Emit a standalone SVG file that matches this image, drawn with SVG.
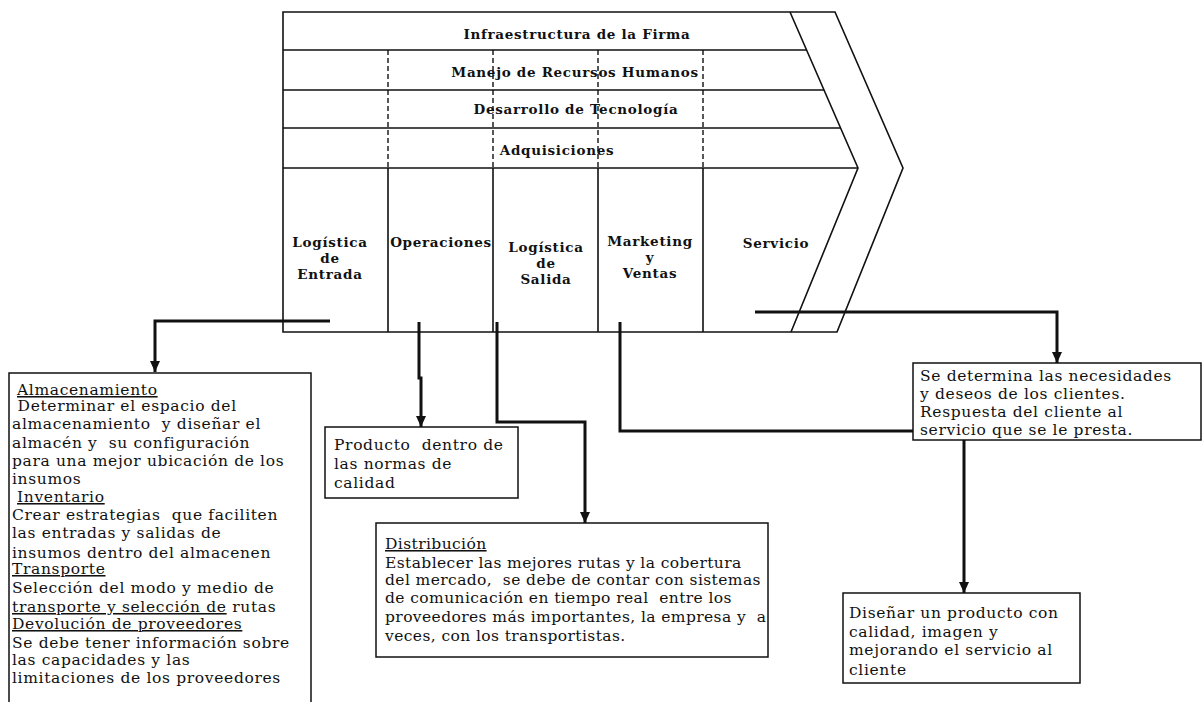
<svg xmlns="http://www.w3.org/2000/svg" width="1204" height="702" viewBox="0 0 1204 702">
<style>
.frame{fill:none;stroke:#111;stroke-width:1.6}
.dash{fill:none;stroke:#111;stroke-width:1.4;stroke-dasharray:5 3}
.lbl{font-family:"DejaVu Serif","Liberation Serif",serif;font-weight:bold;font-size:13.5px;letter-spacing:0.7px;fill:#111}
.box{fill:#fff;stroke:#111;stroke-width:1.5}
.txt{font-family:"DejaVu Serif","Liberation Serif",serif;font-size:15.5px;letter-spacing:0.65px;fill:#111}
.tight{letter-spacing:0.4px}
.u{text-decoration:underline}
.con{fill:none;stroke:#111;stroke-width:3}
</style>
<defs>
<marker id="arr" markerUnits="userSpaceOnUse" markerWidth="12" markerHeight="10" refX="11" refY="5" orient="auto">
<path d="M0,0 L11,5 L0,10 z" fill="#111"/>
</marker>
</defs>
<rect width="1204" height="702" fill="#fff"/>
<g id="value-chain">
<path class="frame" d="M283,12 H835 L903,168 L837,332 H283 Z"/>
<path class="frame" d="M790,12 L858,168 L791,332"/>
<path class="frame" d="M283,50 H807 M283,90 H824 M283,128 H841 M283,168 H858"/>
<path class="dash" d="M388,50 V168 M493,50 V168 M598,50 V168 M703,50 V168"/>
<path class="frame" d="M388,168 V332 M493,168 V332 M598,168 V332 M703,168 V332"/>
<text class="lbl" x="577" y="39" text-anchor="middle">Infraestructura de la Firma</text>
<text class="lbl" x="575" y="77" text-anchor="middle">Manejo de Recursos Humanos</text>
<text class="lbl" x="576" y="114" text-anchor="middle">Desarrollo de Tecnología</text>
<text class="lbl" x="557" y="155" text-anchor="middle">Adquisiciones</text>
<text class="lbl" text-anchor="middle"><tspan x="330" y="247">Logística</tspan><tspan x="330" y="263">de</tspan><tspan x="330" y="279">Entrada</tspan></text>
<text class="lbl" x="441" y="247" text-anchor="middle">Operaciones</text>
<text class="lbl" text-anchor="middle"><tspan x="546" y="252">Logística</tspan><tspan x="546" y="268">de</tspan><tspan x="546" y="284">Salida</tspan></text>
<text class="lbl" text-anchor="middle"><tspan x="650" y="246">Marketing</tspan><tspan x="650" y="262">y</tspan><tspan x="650" y="278">Ventas</tspan></text>
<text class="lbl" x="776" y="248" text-anchor="middle">Servicio</text>
</g>
<g id="connectors">
<path class="con" d="M330,321 H155 V372" marker-end="url(#arr)"/>
<path class="con" d="M419,322 V378 H421 V427" marker-end="url(#arr)"/>
<path class="con" d="M497,322 V422 H585 V523" marker-end="url(#arr)"/>
<path class="con" d="M620,322 V431 H964 V593" marker-end="url(#arr)"/>
<path class="con" d="M755,312 H1057 V363" marker-end="url(#arr)"/>
</g>
<g id="box-entrada">
<rect class="box" x="9" y="373" width="302" height="340"/>
<text class="txt"><tspan x="17" y="395" class="u">Almacenamiento</tspan><tspan x="12" y="411" xml:space="preserve"> Determinar el espacio del</tspan><tspan x="12" y="429" xml:space="preserve">almacenamiento  y diseñar el</tspan><tspan x="12" y="448" xml:space="preserve">almacén y  su configuración</tspan><tspan x="12" y="466">para una mejor ubicación de los</tspan><tspan x="12" y="484">insumos</tspan><tspan x="17" y="502" class="u">Inventario</tspan><tspan x="12" y="520" xml:space="preserve">Crear estrategias  que faciliten</tspan><tspan x="12" y="538">las entradas y salidas de</tspan><tspan x="12" y="558">insumos dentro del almacenen</tspan><tspan x="12" y="574" class="u">Transporte</tspan><tspan x="12" y="593">Selección del modo y medio de</tspan><tspan x="12" y="612"><tspan class="u">transporte y selección de</tspan> rutas</tspan><tspan x="12" y="629" class="u">Devolución de proveedores</tspan><tspan x="12" y="648">Se debe tener información sobre</tspan><tspan x="12" y="665">las capacidades y las</tspan><tspan x="12" y="683">limitaciones de los proveedores</tspan></text>
</g>
<g id="box-operaciones">
<rect class="box" x="325" y="427" width="193" height="71"/>
<text class="txt"><tspan x="334" y="450" xml:space="preserve">Producto  dentro de</tspan><tspan x="334" y="469">las normas de</tspan><tspan x="334" y="488">calidad</tspan></text>
</g>
<g id="box-salida">
<rect class="box" x="376" y="523" width="392" height="134"/>
<text class="txt tight"><tspan x="385" y="549" class="u">Distribución</tspan><tspan x="385" y="568">Establecer las mejores rutas y la cobertura</tspan><tspan x="385" y="585" xml:space="preserve">del mercado,  se debe de contar con sistemas</tspan><tspan x="385" y="603" xml:space="preserve">de comunicación en tiempo real  entre los</tspan><tspan x="385" y="622" xml:space="preserve">proveedores más importantes, la empresa y  a</tspan><tspan x="385" y="641">veces, con los transportistas.</tspan></text>
</g>
<g id="box-marketing">
<rect class="box" x="843" y="593" width="237" height="90"/>
<text class="txt"><tspan x="849" y="618">Diseñar un producto con</tspan><tspan x="849" y="637">calidad, imagen y</tspan><tspan x="849" y="655">mejorando el servicio al</tspan><tspan x="849" y="675">cliente</tspan></text>
</g>
<g id="box-servicio">
<rect class="box" x="913" y="363" width="288" height="77"/>
<text class="txt"><tspan x="920" y="381">Se determina las necesidades</tspan><tspan x="920" y="399">y deseos de los clientes.</tspan><tspan x="920" y="417">Respuesta del cliente al</tspan><tspan x="920" y="435">servicio que se le presta.</tspan></text>
</g>
</svg>
